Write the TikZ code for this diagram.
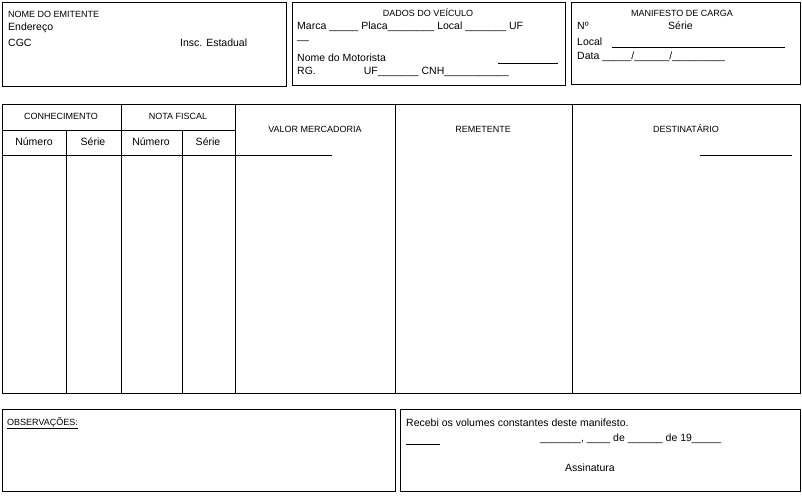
\documentclass[tikz,border=0pt]{standalone}
\usepackage{fontspec}
\setmainfont{Liberation Sans}
\begin{document}
\begin{tikzpicture}[x=1pt, y=-1pt, font=\fontsize{10.5}{12}\selectfont,
  box/.style={draw, line width=0.9pt},
  txt/.style={anchor=west, inner sep=0pt},
  captxt/.style={inner sep=0pt, font=\fontsize{9}{10}\selectfont},
  rule/.style={line width=0.6pt}]
    \useasboundingbox (0,0) rectangle (802,499);

    % top boxes
    \draw[box] (2,2) rectangle (286,86);
    \draw[box] (292,2) rectangle (565,85);
    \draw[box] (571,2) rectangle (800,84);

    \node[txt, captxt] (nome) at (8,14) {NOME DO EMITENTE};
    \node[txt] (end) at (8,28) {Endereço};
    \node[txt] (cgc) at (8,43) {CGC};
    \node[txt] (insc) at (180,43) {Insc. Estadual};

    \node[captxt] (dados) at (428,13) {DADOS DO VEÍCULO};
    \node[txt] (marca) at (297,27) {Marca \_\_\_\_\_ Placa\_\_\_\_\_\_\_\_ Local \_\_\_\_\_\_\_ UF};
    \node[txt] (uf) at (297,41) {\_\_};
    \node[txt] (motor) at (297,58) {Nome do Motorista};
    \draw[rule] (498,63) -- (558,63);
    \node[txt] (rg) at (297,72) {RG.\hspace{48pt}UF\_\_\_\_\_\_\_ CNH\_\_\_\_\_\_\_\_\_\_\_};

    \node[captxt] (manif) at (682,13) {MANIFESTO DE CARGA};
    \node[txt] (num) at (577,26) {Nº};
    \node[txt] (serie) at (668,26) {Série};
    \node[txt] (local) at (577,42) {Local};
    \draw[rule] (612,47) -- (785,47);
    \node[txt] (data) at (577,57) {Data \_\_\_\_\_/\_\_\_\_\_\_/\_\_\_\_\_\_\_\_\_};

    % table
    \draw[box] (2,104) rectangle (800,393);
    \foreach \x in {121,235,395,572} \draw[box] (\x,104) -- (\x,393);
    \foreach \x in {66,182} \draw[box] (\x,130) -- (\x,393);
    \draw[box] (2,130) -- (235,130);
    \draw[box] (2,155) -- (235,155);
    \draw[rule] (236,155) -- (332,155);
    \draw[rule] (700,155) -- (792,155);

    \node[captxt] (conh) at (61,116) {CONHECIMENTO};
    \node[captxt] (nf) at (178,116) {NOTA FISCAL};
    \node[inner sep=0pt] (n1) at (34,142) {Número};
    \node[inner sep=0pt] (s1) at (93,142) {Série};
    \node[inner sep=0pt] (n2) at (151,142) {Número};
    \node[inner sep=0pt] (s2) at (208,142) {Série};
    \node[captxt] (valor) at (315,129) {VALOR MERCADORIA};
    \node[captxt] (remet) at (483,129) {REMETENTE};
    \node[captxt] (dest) at (686,129) {DESTINATÁRIO};

    % bottom boxes
    \draw[box] (2,409) rectangle (395,491);
    \draw[box] (400,409) rectangle (800,491);

    \node[txt, captxt] (obs) at (7,423) {\underline{OBSERVAÇÕES:}};
    \node[txt] (receb) at (406,423) {Recebi os volumes constantes deste manifesto.};
    \draw[rule] (406,444) -- (440,444);
    \node[txt] (datal) at (540,439) {\_\_\_\_\_\_\_, \_\_\_\_ de \_\_\_\_\_\_ de 19\_\_\_\_\_};
    \node[inner sep=0pt] (assin) at (590,468) {Assinatura};
\end{tikzpicture}
\end{document}
